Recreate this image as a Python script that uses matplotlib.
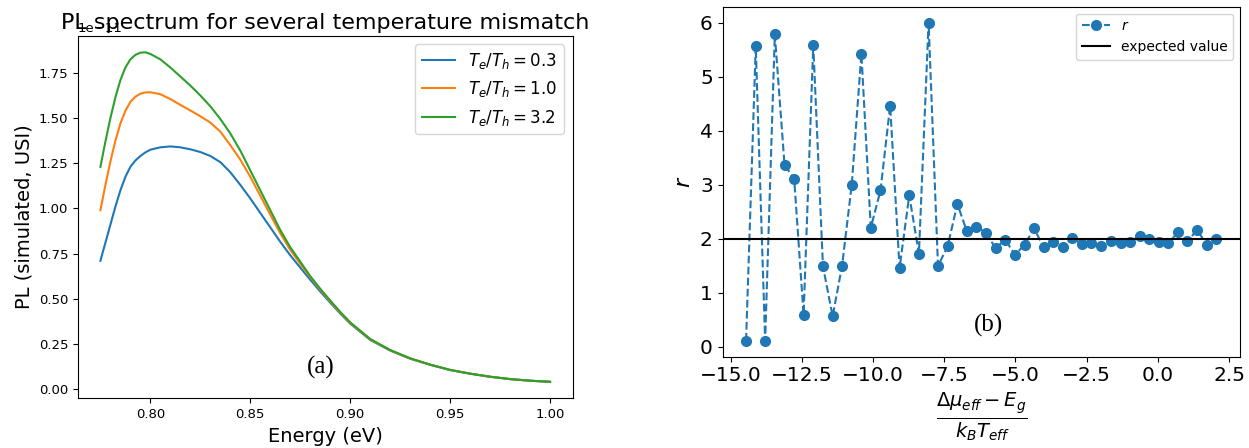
import matplotlib
matplotlib.use("Agg")
import matplotlib.pyplot as plt
import numpy as np

# panel (a): simulated PL spectra (values in units of 1e-11)
energy = [0.775, 0.7775, 0.78, 0.7825, 0.785, 0.7875, 0.79, 0.7925, 0.795, 0.7975,
          0.80, 0.805, 0.81, 0.815, 0.82, 0.825, 0.83, 0.835, 0.84, 0.845,
          0.85, 0.855, 0.86, 0.865, 0.87, 0.875, 0.88, 0.885, 0.89, 0.895,
          0.90, 0.91, 0.92, 0.93, 0.94, 0.95, 0.96, 0.97, 0.98, 0.99, 1.00]
pl_03 = [0.71, 0.81, 0.91, 1.01, 1.10, 1.175, 1.23, 1.265, 1.29, 1.31,
         1.325, 1.338, 1.343, 1.338, 1.327, 1.312, 1.29, 1.256, 1.20, 1.13,
         1.055, 0.975, 0.895, 0.815, 0.74, 0.672, 0.605, 0.54, 0.478, 0.418,
         0.362, 0.272, 0.213, 0.168, 0.134, 0.105, 0.085, 0.068, 0.055, 0.046, 0.040]
pl_10 = [0.99, 1.13, 1.26, 1.375, 1.47, 1.54, 1.59, 1.618, 1.635, 1.642,
         1.643, 1.632, 1.605, 1.573, 1.542, 1.51, 1.475, 1.425, 1.35, 1.27,
         1.175, 1.07, 0.965, 0.862, 0.77, 0.693, 0.62, 0.55, 0.485, 0.423,
         0.366, 0.275, 0.215, 0.169, 0.135, 0.106, 0.085, 0.068, 0.055, 0.046, 0.040]
pl_32 = [1.23, 1.37, 1.50, 1.615, 1.71, 1.78, 1.825, 1.85, 1.862, 1.864,
         1.855, 1.825, 1.78, 1.73, 1.68, 1.625, 1.565, 1.495, 1.415, 1.32,
         1.21, 1.10, 0.99, 0.88, 0.785, 0.705, 0.625, 0.555, 0.49, 0.427,
         0.369, 0.277, 0.216, 0.170, 0.135, 0.106, 0.085, 0.068, 0.055, 0.046, 0.040]
ratios = ["0.3", "1.0", "3.2"]

# panel (b): ratio r against reduced chemical potential
mu_red = [-14.46, -14.12, -13.79, -13.45, -13.11, -12.77, -12.44, -12.10, -11.76, -11.42,
          -11.09, -10.75, -10.41, -10.08, -9.74, -9.40, -9.07, -8.73, -8.39, -8.05,
          -7.72, -7.38, -7.04, -6.71, -6.37, -6.03, -5.70, -5.36, -5.02, -4.68,
          -4.35, -4.01, -3.67, -3.34, -3.00, -2.66, -2.33, -1.99, -1.65, -1.31,
          -0.98, -0.64, -0.30, 0.03, 0.37, 0.71, 1.04, 1.38, 1.72, 2.06]
r_vals = [0.11, 5.56, 0.11, 5.78, 3.37, 3.10, 0.59, 5.58, 1.49, 0.56,
          1.49, 2.99, 5.42, 2.20, 2.89, 4.46, 1.45, 2.80, 1.72, 6.00,
          1.49, 1.86, 2.64, 2.14, 2.21, 2.11, 1.82, 1.98, 1.70, 1.88,
          2.19, 1.84, 1.93, 1.84, 2.01, 1.90, 1.91, 1.87, 1.96, 1.91,
          1.93, 2.05, 2.00, 1.93, 1.91, 2.12, 1.95, 2.16, 1.88, 1.99]
expected_r = 2

fig = plt.figure(figsize=(12.49, 4.48), dpi=100)
ax1 = fig.add_axes([0.0624, 0.111, 0.396, 0.809])
ax2 = fig.add_axes([0.5785, 0.2042, 0.4143, 0.781])

# left panel
for vals, lab in zip([pl_03, pl_10, pl_32], ratios):
    ax1.plot(energy, np.array(vals) * 1e-11, label=r"$T_e/T_h = %s$" % lab)
# y given explicitly so the title is not pushed above the offset text
ax1.set_title("PL spectrum for several temperature mismatch", fontsize=16, y=1.0, pad=5)
ax1.set_xlabel("Energy (eV)", fontsize=14)
ax1.set_ylabel("PL (simulated, USI)", fontsize=14)
ax1.set_xticks([0.80, 0.85, 0.90, 0.95, 1.00])
ax1.tick_params(labelsize=9.5)
ax1.yaxis.get_offset_text().set_fontsize(9.5)
ax1.legend(fontsize=12, loc="upper right")
ax1.text(0.8855, 0.12e-11, "(a)", fontsize=18, family="Liberation Serif",
         ha="center", va="center")

# right panel
ax2.plot(mu_red, r_vals, "o--", color="C0", markersize=7, label="$r$")
ax2.axhline(expected_r, color="black", label="expected value")
ax2.set_ylabel("$r$", fontsize=16)
ax2.set_xlabel(r"$\frac{\Delta\mu_{eff}-E_g}{k_BT_{eff}}$", fontsize=20)
ax2.set_xticks([-15.0, -12.5, -10.0, -7.5, -5.0, -2.5, 0.0, 2.5])
ax2.tick_params(labelsize=14.5)
ax2.legend(fontsize=10, loc="upper right")
ax2.text(-5.94, 0.40, "(b)", fontsize=18, family="Liberation Serif",
         ha="center", va="center")

fig.savefig("out.png", dpi=100)
